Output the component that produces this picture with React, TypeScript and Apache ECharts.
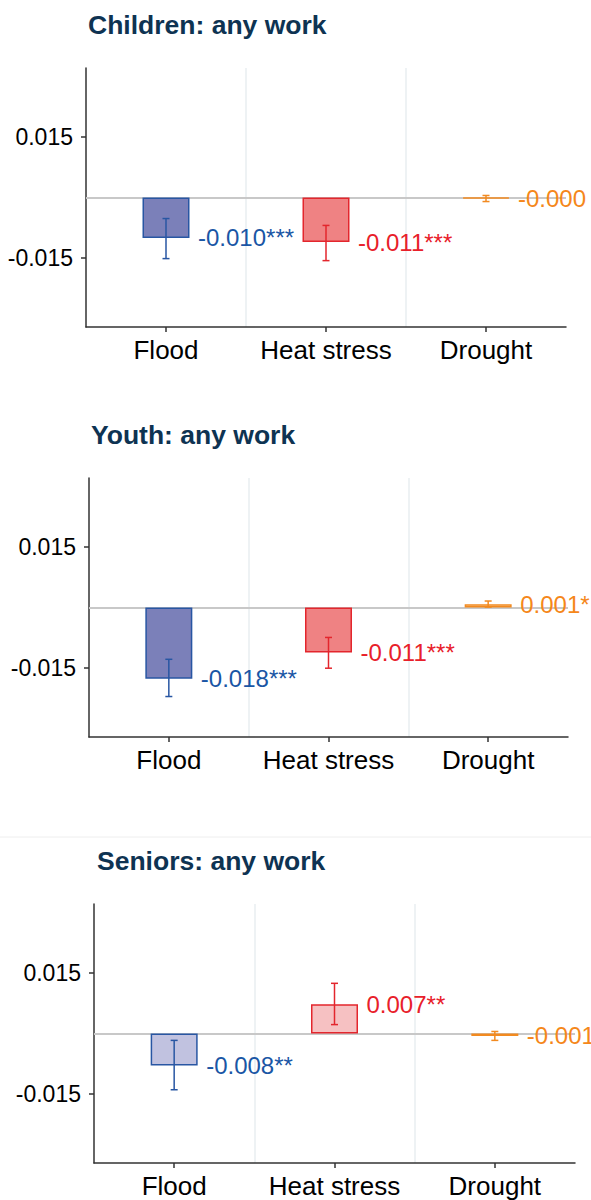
import React, { useEffect, useRef } from 'react';
import * as echarts from 'echarts';

const categories = ['Flood', 'Heat stress', 'Drought'];
const panelTitles = ['Children: any work', 'Youth: any work', 'Seniors: any work'];

const childrenValues = [-0.0100, -0.0110, -0.0003];
const childrenLow = [-0.0151, -0.0156, -0.0010];
const childrenHigh = [-0.0052, -0.0069, 0.0005];
const childrenLabels = ['-0.010***', '-0.011***', '-0.000'];

const youthValues = [-0.0176, -0.0111, 0.0008];
const youthLow = [-0.0220, -0.0150, 0.0001];
const youthHigh = [-0.0128, -0.0074, 0.0016];
const youthLabels = ['-0.018***', '-0.011***', '0.001*'];

const seniorsValues = [-0.0079, 0.0072, -0.0006];
const seniorsLow = [-0.0139, 0.0022, -0.0017];
const seniorsHigh = [-0.0017, 0.0124, 0.0005];
const seniorsLabels = ['-0.008**', '0.007**', '-0.001'];

const yTickValues = [-0.015, 0.015];
const yMin = -0.032;
const yMax = 0.032;

const panels = [
  { values: childrenValues, low: childrenLow, high: childrenHigh, labels: childrenLabels },
  { values: youthValues, low: youthLow, high: youthHigh, labels: youthLabels },
  { values: seniorsValues, low: seniorsLow, high: seniorsHigh, labels: seniorsLabels },
];

const FONT = '"Liberation Sans", Arial, Helvetica, sans-serif';
const borderColors = ['#2856a3', '#e3262d', '#f28a20'];
const labelColors = ['#1a56a5', '#e8202a', '#f5871a'];
const fillColors = [
  ['#7b80b9', '#ef8283', '#f8b070'],
  ['#7b80b9', '#ef8283', '#fddcb8'],
  ['#c1c2e0', '#f6c1c2', '#fddcb8'],
];
const grids = [
  { left: 86, top: 68, width: 480, height: 259 },
  { left: 89, top: 478, width: 479, height: 259 },
  { left: 94, top: 904, width: 481, height: 259 },
];
const titlePos = [
  { left: 88, top: 11 },
  { left: 91, top: 421 },
  { left: 97, top: 847 },
];

export default function App() {
  const ref = useRef<HTMLDivElement>(null);
  useEffect(() => {
    if (!ref.current) return;
    const chart = echarts.init(ref.current, undefined, { renderer: 'svg' });

    const series: any[] = [];
    panels.forEach((p, i) => {
      series.push({
        type: 'bar',
        xAxisIndex: i,
        yAxisIndex: i,
        barWidth: 47,
        z: 3,
        data: p.values.map((v, j) => ({
          value: v,
          itemStyle: { color: fillColors[i][j], borderColor: borderColors[j], borderWidth: 1.5 },
        })),
        markLine: {
          z: 1,
          silent: true,
          symbol: 'none',
          label: { show: false },
          lineStyle: { color: '#c8c8c8', width: 2, type: 'solid' },
          data: [{ yAxis: 0 }],
        },
      });
      series.push({
        type: 'custom',
        xAxisIndex: i,
        yAxisIndex: i,
        z: 4,
        encode: { x: 0, y: [1, 2] },
        data: p.values.map((_, j) => [j, p.low[j], p.high[j]]),
        renderItem: (params: any, api: any) => {
          const x = api.value(0);
          const a = api.coord([x, api.value(1)]);
          const b = api.coord([x, api.value(2)]);
          const c = borderColors[params.dataIndex];
          const cw = 3.5;
          const st = { stroke: c, lineWidth: 1.5 };
          return {
            type: 'group',
            children: [
              { type: 'line', shape: { x1: a[0], y1: a[1], x2: b[0], y2: b[1] }, style: st },
              { type: 'line', shape: { x1: a[0] - cw, y1: a[1], x2: a[0] + cw, y2: a[1] }, style: st },
              { type: 'line', shape: { x1: b[0] - cw, y1: b[1], x2: b[0] + cw, y2: b[1] }, style: st },
            ],
          };
        },
      });
      series.push({
        type: 'scatter',
        xAxisIndex: i,
        yAxisIndex: i,
        symbolSize: 0,
        z: 5,
        itemStyle: { opacity: 1 },
        data: p.values.map((v, j) => ({
          value: [j, v],
          label: {
            show: true,
            position: 'right',
            distance: 32,
            formatter: p.labels[j],
            color: labelColors[j],
            opacity: 1,
            fontSize: 24,
            fontFamily: FONT,
          },
        })),
      });
    });

    chart.setOption({
      animation: false,
      backgroundColor: '#ffffff',
      title: panelTitles.map((t, i) => ({
        text: t,
        left: titlePos[i].left,
        top: titlePos[i].top,
        padding: 0,
        textStyle: { fontFamily: FONT, fontSize: 26.5, fontWeight: 'bold', color: '#0e3352' },
      })),
      grid: grids.map((g) => ({ ...g, containLabel: false })),
      xAxis: grids.map((_, i) => ({
        type: 'category',
        gridIndex: i,
        data: categories,
        axisLine: { show: true, onZero: false, lineStyle: { color: '#333333', width: 1.5 } },
        axisTick: { show: true, alignWithLabel: true, length: 5, lineStyle: { color: '#333333', width: 1.5 } },
        axisLabel: { interval: 0, fontSize: 26, color: '#000', margin: 10, fontFamily: FONT },
        splitLine: {
          show: true,
          showMinLine: false,
          showMaxLine: false,
          lineStyle: { color: '#e8eef0', width: 1.5 },
        },
      })),
      yAxis: grids.map((_, i) => ({
        type: 'value',
        gridIndex: i,
        min: yMin,
        max: yMax,
        axisLine: { show: true, lineStyle: { color: '#333333', width: 1.5 } },
        axisTick: { show: true, length: 5, customValues: yTickValues, lineStyle: { color: '#333333', width: 1.5 } },
        axisLabel: {
          customValues: yTickValues,
          fontSize: 23,
          color: '#000',
          margin: 13,
          fontFamily: FONT,
          formatter: (v: number) => v.toFixed(3),
        },
        splitLine: { show: false },
      })),
      graphic: [
        {
          type: 'line',
          shape: { x1: 0, y1: 837, x2: 591, y2: 837 },
          style: { stroke: '#eeeeee', lineWidth: 1 },
        },
      ],
      series,
    });
    return () => chart.dispose();
  }, []);
  return (
    <div
      ref={ref}
      style={{ position: 'absolute', left: 0, top: 0, width: 591, height: 1200 }}
    />
  );
}
